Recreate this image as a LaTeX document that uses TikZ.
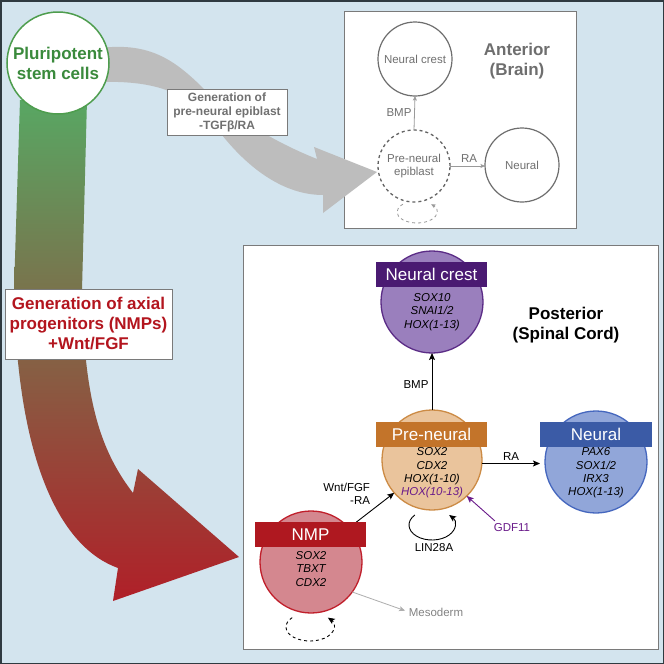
\documentclass[tikz,border=0pt]{standalone}
\usepackage{fontspec}
\setmainfont{Liberation Sans}
\usetikzlibrary{arrows.meta,calc}
\definecolor{bgblue}{HTML}{D3E4EE}
\definecolor{framec}{HTML}{2F3A40}
\definecolor{boxline}{HTML}{7A7A7A}
\definecolor{grayarrow}{HTML}{BDBDBD}
\definecolor{antgray}{HTML}{6E6E6E}
\definecolor{anttext}{HTML}{707070}
\definecolor{plurigreen}{HTML}{4E9D4E}
\definecolor{pluritext}{HTML}{3A8A3C}
\definecolor{axred}{HTML}{B3151E}
\definecolor{greenA}{HTML}{58A763}
\definecolor{oliveM}{HTML}{66603E}
\definecolor{redB}{HTML}{B01F28}
\definecolor{ncfill}{HTML}{9A7FBD}
\definecolor{ncline}{HTML}{5B2C86}
\definecolor{ncbar}{HTML}{4A1A72}
\definecolor{prefill}{HTML}{EAC49C}
\definecolor{preline}{HTML}{CC8B45}
\definecolor{prebar}{HTML}{C3742A}
\definecolor{neufill}{HTML}{91A6D9}
\definecolor{neuline}{HTML}{4567BE}
\definecolor{neubar}{HTML}{3B5BA6}
\definecolor{nmpfill}{HTML}{D4878F}
\definecolor{nmpline}{HTML}{C01F2B}
\definecolor{nmpbarc}{HTML}{AF1820}
\definecolor{gdfpurple}{HTML}{6A1B8A}
\definecolor{mesogray}{HTML}{9A9A9A}
\newcommand\fsbig{\fontsize{17}{20}\selectfont}
\newcommand\fssmall{\fontsize{11.5}{13.4}\selectfont}
\begin{document}
\begin{tikzpicture}[x=1pt,y=-1pt,
  every node/.style={inner sep=0pt, outer sep=0pt},
  panel/.style={draw=boxline, fill=white, line width=0.9pt},
  labelbox/.style={draw=boxline, fill=white, line width=0.9pt, align=center},
  antcell/.style={circle, draw=antgray, line width=1.2pt, minimum size=74pt, text=anttext, font=\fssmall, align=center},
  cell/.style={circle, line width=1.3pt, minimum size=102pt},
  cellbar/.style={rectangle, minimum width=111pt, minimum height=25pt, text=white, font=\fsbig},
  genes/.style={font=\fssmall\itshape, align=center},
  smalltxt/.style={font=\fssmall},
  conn/.style={line width=0.9pt, -{Stealth[length=7pt,width=6pt,inset=1.5pt]}},
  antconn/.style={draw=mesogray, line width=0.8pt, -{Stealth[length=4.5pt,width=4pt,inset=1pt]}}
]
\useasboundingbox (0,0) rectangle (664,664);
\fill[bgblue] (0,0) rectangle (664,664);
\draw[framec, line width=1.5pt] (0.75,0.75) rectangle (663.25,663.25);

% panels
\draw[panel] (344,11) rectangle (576,228);
\draw[panel] (243,245) rectangle (658,649);

% gray arrow
\fill[grayarrow] (100,48) .. controls (150,42) and (175,60) .. (205,90)
  .. controls (240,120) and (270,140) .. (317,159)
  -- (314,147) -- (377,172) -- (323,213) -- (323,195)
  .. controls (285,195) and (250,170) .. (222,135)
  .. controls (195,100) and (170,80) .. (100,82) -- cycle;

% green-red arrow
\shade[top color=greenA, middle color=oliveM, bottom color=redB]
  (20,100) -- (14,290) .. controls (17,465) and (62,548) .. (118,568)
  -- (113,601) -- (239,557) -- (138,469) -- (133,493)
  .. controls (100,450) and (84,400) .. (82,290) -- (87,100) -- cycle;

% pluripotent
\node[circle, draw=plurigreen, fill=white, line width=1.5pt, minimum size=102pt,
  text=pluritext, font=\fsbig\bfseries, align=center] (pluri) at (58,63) {Pluripotent\\stem cells};

% label boxes
\node[labelbox, minimum width=120pt, minimum height=46pt, text=anttext,
  font=\fontsize{12}{14}\selectfont\bfseries] (lblgray) at (227,112)
  {Generation of\\pre-neural epiblast\\-TGFβ/RA};
\node[labelbox, minimum width=167pt, minimum height=70pt, text=axred,
  font=\fsbig\bfseries] (lblred) at (88.5,324)
  {Generation of axial\\progenitors (NMPs)\\+Wnt/FGF};

% anterior
\node[antcell] (anc) at (415,59) {Neural crest};
\node[antcell, dashed, draw=antgray!90!black, line width=1.3pt, minimum size=72pt] (aepi) at (414,166) {Pre-neural\\epiblast};
\node[antcell] (aneu) at (522,165) {Neural};
\node[font=\fsbig\bfseries, text=antgray, align=center] (anttitle) at (517,61)
  {Anterior\\(Brain)};
\draw[antconn] (aepi.north) -- (anc.south);
\node[smalltxt, text=anttext] (abmp) at (399,113) {BMP};
\draw[antconn] (aepi.east) -- (aepi.east -| aneu.west);
\node[smalltxt, text=anttext] (ara) at (469,159) {RA};
\coordinate (aloop) at (417,212);
\draw[draw=mesogray, dashed, line width=0.8pt, -{Stealth[length=4.5pt,width=4pt,inset=1pt]}]
  ([shift={(225:20 and 11)}]aloop) arc[start angle=225, end angle=-45, x radius=20, y radius=11];

% posterior
\node[font=\fsbig\bfseries, align=center] (posttitle) at (566,325)
  {Posterior\\(Spinal Cord)};

\node[cell, draw=ncline, fill=ncfill] (nc) at (432,302) {};
\node[cellbar, fill=ncbar] (ncbar) at (431.5,274.5) {Neural crest};
\node[genes] (ncgenes) at (432,312) {SOX10\\SNAI1/2\\HOX(1-13)};

\node[cell, draw=preline, fill=prefill, minimum size=100pt] (pre) at (432,460) {};
\node[cellbar, fill=prebar] (prebarn) at (431.5,434.5) {Pre-neural};
\node[genes] (pregenes) at (432,473) {SOX2\\CDX2\\HOX(1-10)\\\textcolor{gdfpurple}{HOX(10-13)}};

\node[cell, draw=neuline, fill=neufill] (neu) at (596,462) {};
\node[cellbar, fill=neubar, minimum width=112pt] (neubarn) at (596,434.5) {Neural};
\node[genes] (neugenes) at (596,473) {PAX6\\SOX1/2\\IRX3\\HOX(1-13)};

\node[cell, draw=nmpline, fill=nmpfill] (nmp) at (311,562) {};
\draw[conn] (nmp.42) -- (pre.221);
\node[cellbar, fill=nmpbarc] (nmpbar) at (310.5,534.5) {NMP};
\node[genes] (nmpgenes) at (311,569) {SOX2\\TBXT\\CDX2};

% posterior connectors
\draw[conn] (pre.north) -- (ncgenes |- nc.south);
\node[smalltxt] (pbmp) at (416,385) {BMP};
\draw[conn] (pre.-4) -- (pre.-4 -| neubarn.west);
\node[smalltxt] (pra) at (511,457) {RA};
\node[smalltxt, align=right, anchor=east] (wnt) at (370,494) {Wnt/FGF\\-RA};
\node[smalltxt, text=gdfpurple] (gdf) at (512,528) {GDF11};
\draw[conn, draw=gdfpurple] ([shift={(1,-3)}]gdf.north west) -- (pre.-46);
\coordinate (linloop) at (432,525);
\draw[line width=0.9pt, -{Stealth[length=7pt,width=6pt,inset=1.5pt]}]
  ([shift={(222:23 and 15)}]linloop) arc[start angle=222, end angle=-42, x radius=23, y radius=15];
\node[smalltxt] (lin) at (434,548) {LIN28A};
\coordinate (nmploop) at (310,627);
\draw[line width=0.9pt, dashed, -{Stealth[length=7pt,width=6pt,inset=1.5pt]}]
  ([shift={(222:24 and 14)}]nmploop) arc[start angle=222, end angle=-42, x radius=24, y radius=14];
\node[smalltxt, text=mesogray!85!black] (meso) at (436,612) {Mesoderm};
\draw[line width=0.8pt, draw=mesogray!80, -{Stealth[length=6pt,width=5pt,inset=1.5pt]}, shorten >=4pt] (nmp.-36) -- (meso.west);
\end{tikzpicture}
\end{document}
